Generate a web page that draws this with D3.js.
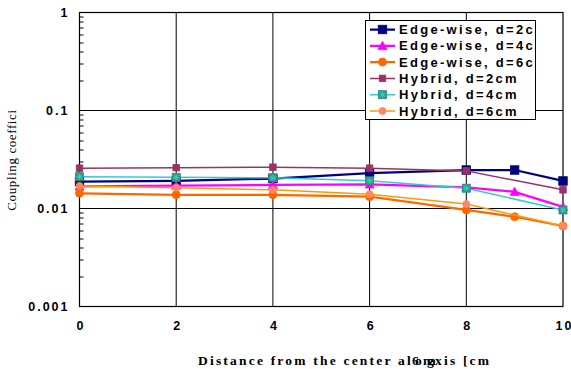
<!DOCTYPE html>
<html>
<head>
<meta charset="utf-8">
<script src="https://cdn.jsdelivr.net/npm/d3@7"></script>
<style>
  body { margin: 0; background: #fff; }
  text { font-variant-ligatures: none; }
  .tick text { font-family: "Liberation Sans", Arial, sans-serif; font-weight: bold; font-size: 12.5px; letter-spacing: 2px; }
  .legend text { font-family: "Liberation Sans", Arial, sans-serif; font-weight: bold; font-size: 13px; letter-spacing: 2.3px; }
</style>
</head>
<body>
<svg id="chart" width="571" height="369"></svg>
<script>
// x positions along the axis [cm]
const xFull = [0, 2, 4, 6, 8, 9, 10];
const xHybrid = [0, 2, 4, 6, 8, 10];

// coupling coefficient
const edge2 = [0.0188, 0.0191, 0.0202, 0.0229, 0.0247, 0.0247, 0.0191];
const edge4 = [0.0168, 0.0171, 0.0174, 0.0176, 0.0164, 0.0148, 0.0104];
const edge6 = [0.0143, 0.0138, 0.0138, 0.0132, 0.00966, 0.00824, 0.00663];
const hyb2 = [0.0258, 0.0261, 0.0264, 0.0258, 0.0242, 0.0155];
const hyb4 = [0.0211, 0.0208, 0.0206, 0.0192, 0.0161, 0.00966];
const hyb6 = [0.0170, 0.0163, 0.0155, 0.0140, 0.0111, 0.00663];

const xTicks = [0, 2, 4, 6, 8, 10];
const yTicks = [0.001, 0.01, 0.1, 1];
const yTickLabels = ['0.001', '0.01', '0.1', '1'];

const seriesNames = ['Edge-wise, d=2cm', 'Edge-wise, d=4cm', 'Edge-wise, d=6cm',
  'Hybrid, d=2cm', 'Hybrid, d=4cm', 'Hybrid, d=6cm'];

const series = [
  { name: seriesNames[0], xs: xFull, ys: edge2, line: '#000080', width: 2.25, shape: 'square', size: 8.5, fill: '#000080', stroke: '#000080' },
  { name: seriesNames[1], xs: xFull, ys: edge4, line: '#ff00ff', width: 2.25, shape: 'triangle', size: 9, fill: '#ff00ff', stroke: '#ff00ff' },
  { name: seriesNames[2], xs: xFull, ys: edge6, line: '#ff6600', width: 2.25, shape: 'circle', size: 8, fill: '#ff6600', stroke: '#ff6600' },
  { name: seriesNames[3], xs: xHybrid, ys: hyb2, line: '#993366', width: 1.5, shape: 'square', size: 6.5, fill: '#993366', stroke: '#993366' },
  { name: seriesNames[4], xs: xHybrid, ys: hyb4, line: '#33cccc', width: 1.5, shape: 'star', size: 8, fill: '#339980', stroke: '#33cccc' },
  { name: seriesNames[5], xs: xHybrid, ys: hyb6, line: '#ff9900', width: 1.5, shape: 'circle', size: 7, fill: '#ff8080', stroke: '#ff9900' },
];

const margin = { left: 79.5, top: 12.5 };
const pw = 563 - margin.left;
const ph = 306.5 - margin.top;

const svg = d3.select('#chart');
const g = svg.append('g').attr('transform', `translate(${margin.left},${margin.top})`);

const x = d3.scaleLinear().domain([0, 10]).range([0, pw]);
const y = d3.scaleLog().domain([0.001, 1]).range([ph, 0]);

// grid lines
g.append('g').selectAll('line')
  .data(xTicks.slice(1, -1))
  .enter().append('line')
  .attr('x1', d => x(d)).attr('x2', d => x(d))
  .attr('y1', 0).attr('y2', ph)
  .attr('stroke', '#000').attr('stroke-width', 1);

g.append('g').selectAll('line')
  .data(yTicks.slice(1, -1))
  .enter().append('line')
  .attr('x1', 0).attr('x2', pw)
  .attr('y1', d => y(d)).attr('y2', d => y(d))
  .attr('stroke', '#000').attr('stroke-width', 1);

// minor ticks on the left axis (inside)
const minor = y.ticks().filter(v => yTicks.indexOf(v) < 0);
g.append('g').selectAll('line')
  .data(minor)
  .enter().append('line')
  .attr('x1', 0).attr('x2', 4)
  .attr('y1', d => Math.round(y(d)) + 0.5).attr('y2', d => Math.round(y(d)) + 0.5)
  .attr('stroke', '#000').attr('stroke-width', 1);

// plot frame
g.append('rect')
  .attr('x', 0).attr('y', 0).attr('width', pw).attr('height', ph)
  .attr('fill', 'none').attr('stroke', '#000').attr('stroke-width', 1.2);

// axes (labels only)
const xAxis = g.append('g')
  .attr('transform', `translate(0,${ph})`)
  .call(d3.axisBottom(x).tickValues(xTicks).tickSize(0).tickPadding(15).tickFormat(d3.format('d')));
xAxis.select('.domain').remove();
xAxis.selectAll('text').attr('fill', '#000').attr('dx', '1px');

const yAxis = g.append('g')
  .call(d3.axisLeft(y).tickValues(yTicks).tickSize(0).tickPadding(10)
    .tickFormat((d, i) => yTickLabels[i]));
yAxis.select('.domain').remove();
yAxis.selectAll('text').attr('fill', '#000');

// symbols
const drawMarker = (sel, s, cx, cy) => {
  const h = s.size / 2;
  if (s.shape === 'square' || s.shape === 'star') {
    sel.append('rect')
      .attr('x', cx - h).attr('y', cy - h).attr('width', s.size).attr('height', s.size)
      .attr('fill', s.fill).attr('stroke', s.shape === 'star' ? '#2e8b72' : s.stroke).attr('stroke-width', 0.8);
    if (s.shape === 'star') {
      const r = h * 0.75;
      const p = d3.path();
      for (let k = 0; k < 4; k++) {
        const a = k * Math.PI / 4;
        p.moveTo(cx - r * Math.cos(a), cy - r * Math.sin(a));
        p.lineTo(cx + r * Math.cos(a), cy + r * Math.sin(a));
      }
      sel.append('path').attr('d', p.toString()).attr('stroke', '#33cccc').attr('stroke-width', 1);
    }
  } else if (s.shape === 'triangle') {
    sel.append('path')
      .attr('d', `M${cx},${cy - h}L${cx + h},${cy + h * 0.8}L${cx - h},${cy + h * 0.8}Z`)
      .attr('fill', s.fill).attr('stroke', s.stroke).attr('stroke-width', 0.8);
  } else {
    sel.append('circle')
      .attr('cx', cx).attr('cy', cy).attr('r', h)
      .attr('fill', s.fill).attr('stroke', s.stroke).attr('stroke-width', 0.8);
  }
};

const line = d3.line().x(d => x(d[0])).y(d => y(d[1]));

series.forEach((s) => {
  const pts = s.xs.map((v, i) => [v, s.ys[i]]);
  const sg = g.append('g');
  sg.append('path')
    .attr('d', line(pts))
    .attr('fill', 'none')
    .attr('stroke', s.line)
    .attr('stroke-width', s.width);
  pts.forEach(p => drawMarker(sg, s, x(p[0]), y(p[1])));
});

// legend
const lx = 365.5, ly = 20.5, lw = 170, lh = 99;
svg.append('clipPath').attr('id', 'legclip')
  .append('rect').attr('x', lx).attr('y', ly).attr('width', lw).attr('height', lh);
const leg = svg.append('g').attr('class', 'legend');
leg.append('rect')
  .attr('x', lx).attr('y', ly).attr('width', lw).attr('height', lh)
  .attr('fill', '#fff').attr('stroke', '#000').attr('stroke-width', 1);
const items = leg.append('g').attr('clip-path', 'url(#legclip)');
series.forEach((s, i) => {
  const cy = 29.5 + i * 16.3;
  const ig = items.append('g');
  ig.append('line')
    .attr('x1', 370).attr('x2', 395).attr('y1', cy).attr('y2', cy)
    .attr('stroke', s.line).attr('stroke-width', s.width);
  drawMarker(ig, s, 382.5, cy);
  ig.append('text')
    .attr('x', 399).attr('y', cy + 4.5)
    .attr('fill', '#000')
    .text(s.name);
});

// axis titles
svg.append('text')
  .attr('transform', 'translate(16,160) rotate(-90)')
  .attr('text-anchor', 'middle')
  .attr('font-family', '"Liberation Serif", "Times New Roman", serif')
  .attr('font-size', 13)
  .attr('letter-spacing', '0.6px')
  .text('Coupling coeffici');

// x title: the original has overlapping glyphs in "along x-axis"
const xt = svg.append('text')
  .attr('y', 365)
  .attr('font-family', '"Liberation Serif", "Times New Roman", serif')
  .attr('font-weight', 'bold')
  .attr('font-size', 13.5)
  .attr('letter-spacing', '2.2px');
xt.append('tspan').attr('x', 198).text('Distance from the center al');
xt.append('tspan').attr('x', 412).text('6');
xt.append('tspan').attr('x', 415).text('o');
xt.append('tspan').attr('x', 423).text('n');
xt.append('tspan').attr('x', 427).text('g');
xt.append('tspan').attr('x', 429).text('a');
xt.append('tspan').attr('x', 435).text('xis [cm');
</script>
</body>
</html>
